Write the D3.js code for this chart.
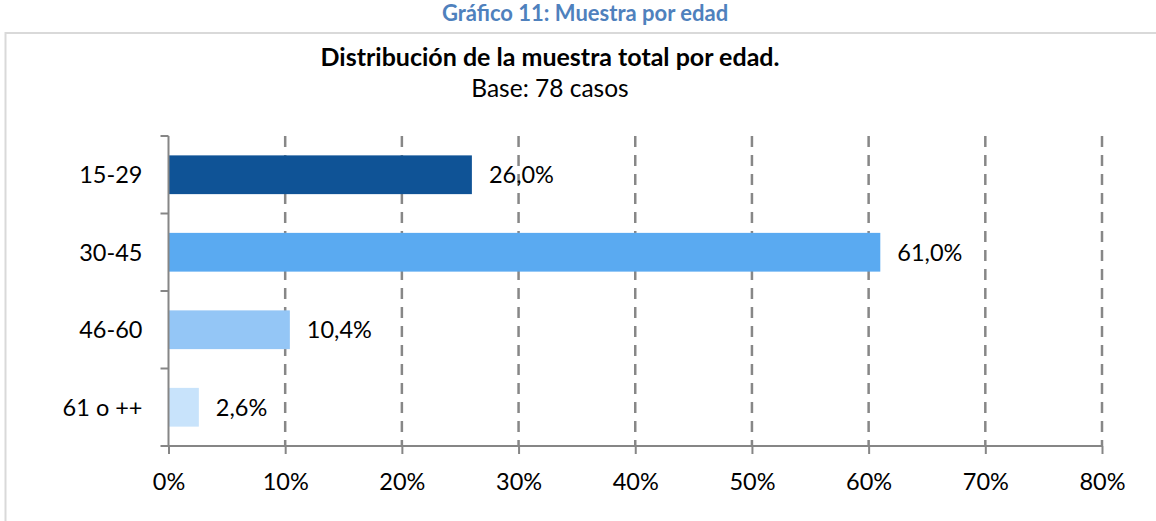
<!DOCTYPE html>
<html>
<head>
<meta charset="utf-8">
<script src="https://cdn.jsdelivr.net/npm/d3@7"></script>
<style>
  body { margin: 0; background: #fff; }
  text { font-family: Lato, "Open Sans", sans-serif; fill: #000; }
</style>
</head>
<body>
<div id="chart"></div>
<script>
var width = 1156
var height = 521
var margin = {top: 136, right: 54, bottom: 75, left: 168.5}
var fontSize = "23.5px"

// data
var categories = ["15-29", "30-45", "46-60", "61 o ++"]
var values = [26.0, 61.0, 10.4, 2.6]
var barColors = ["#0f5396", "#5aaaf1", "#94c6f6", "#c8e3fb"]
var xTicks = [0, 10, 20, 30, 40, 50, 60, 70, 80]

var header = "Gráfico 11: Muestra por edad"
var title = "Distribución de la muestra total por edad."
var subtitle = "Base: 78 casos"

var svg = d3.select("#chart").append("svg")
    .attr("width", width)
    .attr("height", height)

// outer frame (only top and left show)
svg.append("rect")
    .attr("x", 5.5)
    .attr("y", 33)
    .attr("width", width + 20)
    .attr("height", height)
    .attr("fill", "none")
    .attr("stroke", "#d9d9d9")
    .attr("stroke-width", 2)

svg.append("text")
    .attr("x", 585)
    .attr("y", 21)
    .attr("text-anchor", "middle")
    .style("font-size", "22px")
    .style("font-weight", "bold")
    .style("fill", "#4f81bd")
    .text(header)

svg.append("text")
    .attr("x", 550)
    .attr("y", 66)
    .attr("text-anchor", "middle")
    .style("font-size", "25px")
    .style("font-weight", "bold")
    .text(title)

svg.append("text")
    .attr("x", 550)
    .attr("y", 97)
    .attr("text-anchor", "middle")
    .style("font-size", "24.5px")
    .text(subtitle)

var x = d3.scaleLinear()
    .domain([0, 80])
    .range([margin.left, width - margin.right])

var y = d3.scaleBand()
    .domain(categories)
    .range([margin.top, height - margin.bottom])
    .paddingInner(0.5)
    .paddingOuter(0.25)

// dashed gridlines
svg.append("g")
    .selectAll("line")
    .data(xTicks.slice(1))
    .join("line")
    .attr("x1", d => x(d))
    .attr("x2", d => x(d))
    .attr("y1", margin.top)
    .attr("y2", height - margin.bottom)
    .attr("stroke", "#878787")
    .attr("stroke-width", 2.5)
    .attr("stroke-dasharray", "11,8")

svg.selectAll(".bar")
    .data(values)
    .join("rect")
    .attr("class", "bar")
    .attr("x", x(0))
    .attr("y", (d, i) => y(categories[i]))
    .attr("width", d => x(d) - x(0))
    .attr("height", y.bandwidth())
    .attr("fill", (d, i) => barColors[i])

svg.selectAll(".val")
    .data(values)
    .join("text")
    .attr("class", "val")
    .attr("x", d => x(d) + 17)
    .attr("y", (d, i) => y(categories[i]) + y.bandwidth() / 2)
    .attr("dy", "0.36em")
    .style("font-size", fontSize)
    .text(d => d3.format(".1f")(d).replace(".", ",") + "%")

// x axis
var xAxis = svg.append("g")
    .attr("transform", "translate(0," + (height - margin.bottom) + ")")
    .call(d3.axisBottom(x).tickValues(xTicks).tickSize(8).tickPadding(19)
        .tickFormat(d => d + "%"))
xAxis.select(".domain").attr("stroke", "#868686").attr("stroke-width", 2)
    .attr("d", "M" + (x(0) - 8) + ",0H" + x(80))
xAxis.selectAll(".tick line").attr("stroke", "#868686").attr("stroke-width", 2)
xAxis.selectAll(".tick text").style("font-size", fontSize).style("font-family", "Lato, sans-serif").attr("fill", "#000")

// y axis: ticks sit between categories
var yAxis = svg.append("g")
    .attr("transform", "translate(" + x(0) + ",0)")
yAxis.append("line")
    .attr("y1", margin.top)
    .attr("y2", height - margin.bottom)
    .attr("stroke", "#868686")
    .attr("stroke-width", 2)
yAxis.selectAll(".ytick")
    .data(categories)
    .join("line")
    .attr("class", "ytick")
    .attr("x1", -8)
    .attr("x2", 0)
    .attr("y1", d => y(d) - y.step() * y.paddingOuter())
    .attr("y2", d => y(d) - y.step() * y.paddingOuter())
    .attr("stroke", "#868686")
    .attr("stroke-width", 2)
yAxis.selectAll(".ylab")
    .data(categories)
    .join("text")
    .attr("class", "ylab")
    .attr("x", -26)
    .attr("y", d => y(d) + y.bandwidth() / 2)
    .attr("dy", "0.36em")
    .attr("text-anchor", "end")
    .style("font-size", fontSize)
    .text(d => d)
</script>
</body>
</html>
